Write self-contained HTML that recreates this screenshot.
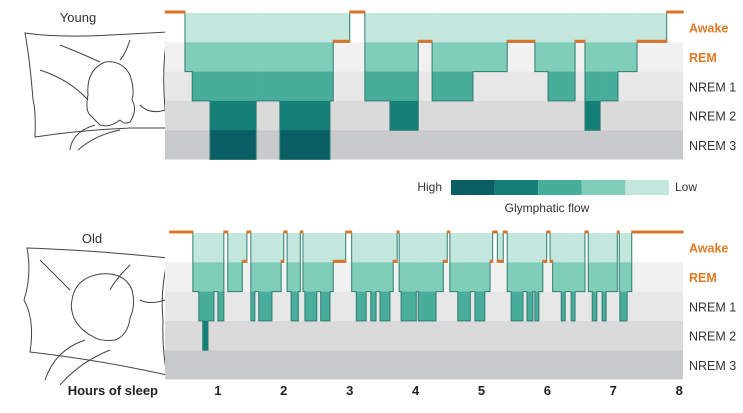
<!DOCTYPE html>
<html><head><meta charset="utf-8"><style>
body{margin:0;background:#fff;width:743px;height:413px;overflow:hidden;font-family:"Liberation Sans",sans-serif}
svg{display:block}
</style></head><body>
<svg id="chart" width="743" height="413" viewBox="0 0 743 413">
<g fill="none" stroke="#444" stroke-width="1">
<text x="78" y="22" font-size="13" fill="#333" stroke="none" text-anchor="middle">Young</text>
<path d="M25,33 Q60,38 110,35 L168,32 Q160,70 167,128 L130,128 Q80,130 35,137 Q36,110 33,100 Q30,60 25,33Z"/>
<path d="M40,70 Q70,80 88,100 M60,45 Q85,55 100,62 M130,40 Q125,55 120,60 M140,105 Q150,115 165,110"/>
<path d="M88,95 Q86,70 105,62 Q122,60 130,75 Q135,90 132,100 Q138,110 130,122 Q124,125 120,120 Q110,128 100,125 Q95,120 90,115 Q85,110 88,95Z"/>
<path d="M70,150 Q72,132 95,125 M78,150 Q95,135 120,130"/>
</g>
<g fill="none" stroke="#444" stroke-width="1">
<text x="92" y="243" font-size="13" fill="#333" stroke="none" text-anchor="middle">Old</text>
<path d="M27,248 Q90,250 168,258 Q160,290 163,320 Q162,350 167,375 Q100,360 30,352 Q35,320 24,300 Q32,275 27,248Z"/>
<path d="M40,260 Q60,280 70,290 M130,265 Q115,280 110,290 M140,300 Q150,305 165,300"/>
<path d="M72,300 Q75,278 100,274 Q125,272 132,290 Q136,305 130,318 Q128,335 115,340 Q100,342 92,336 Q80,330 74,318 Q70,308 72,300Z"/>
<path d="M45,380 Q55,350 85,340 M60,385 Q80,362 110,350"/>
</g>
<g id="top"></g>
<g id="bot"></g>
<g>
<text x="442" y="191" font-size="12" fill="#333" text-anchor="end">High</text>
<g id="legbox"></g>
<text x="675" y="191" font-size="12" fill="#333">Low</text>
<text x="547" y="212" font-size="12" fill="#333" text-anchor="middle">Glymphatic flow</text>
</g>
<g id="xaxis">
<text x="158" y="395" font-size="13" font-weight="bold" fill="#222" text-anchor="end">Hours of sleep</text>
</g>
</svg>
<script>
const hourTicks=[1,2,3,4,5,6,7,8];
const stageLabels=["Awake","REM","NREM 1","NREM 2","NREM 3"];
const flowLevels=["High","","","","Low"];
const youngStarts=[0.20,0.50,0.61,0.88,1.58,1.94,2.70,2.75,3.00,3.23,3.61,4.04,4.25,4.87,5.39,5.81,6.01,6.42,6.57,6.80,7.07,7.36,7.81];
const youngDepth=[0,2,3,5,3,5,3,1,0,3,4,1,3,2,1,2,3,1,4,3,2,1,0];
const youngEnd=8.06;
const oldStarts=[0.27,0.62,0.71,0.77,0.85,0.94,1.00,1.09,1.15,1.37,1.44,1.50,1.56,1.62,1.82,1.96,2.00,2.05,2.11,2.22,2.25,2.29,2.32,2.50,2.56,2.70,2.75,2.94,3.03,3.10,3.25,3.32,3.40,3.46,3.61,3.66,3.72,3.75,3.78,4.01,4.04,4.31,4.42,4.48,4.52,4.64,4.83,4.90,5.05,5.13,5.17,5.24,5.33,5.39,5.45,5.63,5.69,5.78,5.81,5.87,5.93,5.99,6.04,6.08,6.21,6.27,6.36,6.42,6.57,6.62,6.68,6.75,6.83,6.89,7.06,7.09,7.10,7.21,7.28];
const oldDepth=[0,2,3,4,3,2,3,0,2,1,0,3,2,3,2,1,0,2,3,2,0,2,3,2,3,2,1,0,2,3,2,3,2,3,2,1,0,2,3,2,3,2,1,0,2,3,2,3,2,1,0,1,0,2,3,2,3,2,3,2,1,0,1,2,3,2,3,2,0,2,3,2,3,2,0,2,3,2,0];
const oldEnd=8.06;

const NS="http://www.w3.org/2000/svg";
const fillCols=["#c3e7dd","#80cdb9","#49ad9b","#137f76","#0b5e64"];
const bgCols=["#ffffff","#f1f1f1","#e7e7e8","#dadadb","#c8c9cb"];
const X0=152,PPH=65.9,XR=683;
const x=h=>X0+h*PPH;
function mk(tag,attrs,parent){const e=document.createElementNS(NS,tag);for(const k in attrs)e.setAttribute(k,attrs[k]);parent.appendChild(e);return e;}
function drawChart(g,top,starts,depth,end,pref){
  const bh=29.3;
  const y=d=>top+d*bh;
  stageLabels.forEach((s,i)=>{
    const r=mk("rect",{x:165,y:y(i),width:XR-165,height:bh,fill:bgCols[i]},g);
    
    
    const t=mk("text",{x:689,y:y(i)+bh/2+5,"font-size":12.5,fill:i<2?"#e07a25":"#333","font-weight":i<2?"bold":"normal"},g);
    t.textContent=s;
    
    
  });
  let path="";
  for(let i=0;i<starts.length;i++){
    const h0=starts[i],h1=i+1<starts.length?starts[i+1]:end,d=depth[i];
    const x0=x(h0),x1=x(h1);
    for(let b=0;b<d;b++){
      const r=mk("rect",{x:x0,y:y(b),width:x1-x0+0.3,height:bh+0.3,fill:fillCols[b]},g);
      
      
    }
    const yd=y(d);
    path+=(i===0?"M":"L")+x0+","+yd+" L"+x1+","+yd+" ";
  }
  const p=mk("path",{d:path,fill:"none",stroke:"#2f7d72","stroke-width":1},g);
  
  
  for(let i=0;i<starts.length;i++){
    const d=depth[i];if(d>1)continue;
    const h1=i+1<starts.length?starts[i+1]:end;
    const l=mk("rect",{x:x(starts[i])-0.5,y:y(d)-2.5,width:x(h1)-x(starts[i])+1,height:3,fill:"#d9752a"},g);
    
    
  }
}
drawChart(document.getElementById("top"),13,youngStarts,youngDepth,youngEnd,"young");
drawChart(document.getElementById("bot"),233,oldStarts,oldDepth,oldEnd,"old");
const lg=document.getElementById("legbox");
flowLevels.forEach((f,i)=>{
  const r=mk("rect",{x:451+i*43.6,y:180,width:43.6,height:15,fill:fillCols[4-i]},lg);
  
  
});
const xa=document.getElementById("xaxis");
hourTicks.forEach(h=>{
  const t=mk("text",{x:x(h),y:395,"font-size":13,"font-weight":"bold",fill:"#222","text-anchor":"middle"},xa);
  t.textContent=h;
  
  
});
</script>
</body></html>
